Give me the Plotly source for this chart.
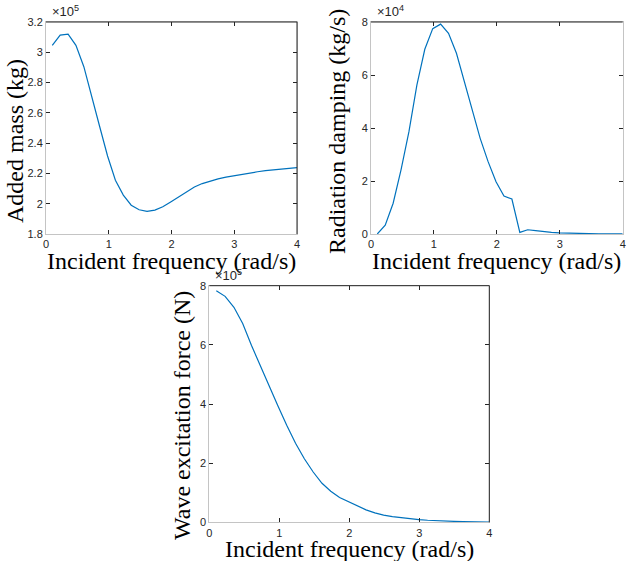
import plotly.graph_objects as go

# Incident frequency grid (rad/s)
freq = [0.100, 0.226, 0.352, 0.477, 0.603, 0.729, 0.855, 0.981, 1.106, 1.232,
        1.358, 1.484, 1.610, 1.735, 1.861, 1.987, 2.113, 2.239, 2.365, 2.490,
        2.616, 2.742, 2.868, 2.994, 3.119, 3.245, 3.371, 3.497, 3.623, 3.748,
        3.874, 4.000]

# Added mass (kg)
added_mass = [3.046e5, 3.113e5, 3.120e5, 3.046e5, 2.905e5, 2.715e5, 2.510e5, 2.315e5,
              2.155e5, 2.057e5, 1.990e5, 1.960e5, 1.950e5, 1.958e5, 1.980e5, 2.012e5,
              2.045e5, 2.075e5, 2.110e5, 2.133e5, 2.150e5, 2.164e5, 2.176e5, 2.186e5,
              2.195e5, 2.204e5, 2.211e5, 2.218e5, 2.224e5, 2.229e5, 2.234e5, 2.238e5]

# Radiation damping (kg/s)
rad_damping = [0.00e4, 0.33e4, 1.16e4, 2.42e4, 3.86e4, 5.62e4, 6.97e4, 7.75e4,
               7.92e4, 7.57e4, 6.82e4, 5.75e4, 4.68e4, 3.61e4, 2.73e4, 1.97e4,
               1.43e4, 1.32e4, 0.06e4, 0.16e4, 0.13e4, 0.09e4, 0.06e4, 0.04e4,
               0.03e4, 0.015e4, 0.01e4, 0.007e4, 0.005e4, 0.003e4, 0.002e4, 0.001e4]

# Wave excitation force (N)
exc_force = [7.83e5, 7.64e5, 7.27e5, 6.72e5, 5.98e5, 5.28e5, 4.58e5, 3.93e5,
             3.28e5, 2.67e5, 2.15e5, 1.70e5, 1.32e5, 1.05e5, 0.84e5, 0.70e5,
             0.55e5, 0.42e5, 0.32e5, 0.24e5, 0.19e5, 0.15e5, 0.11e5, 0.09e5,
             0.07e5, 0.05e5, 0.04e5, 0.03e5, 0.02e5, 0.015e5, 0.01e5, 0.008e5]

x_ticks = [0, 1, 2, 3, 4]
x_ticklabels = ["0", "1", "2", "3", "4"]
am_ticks = [1.8e5, 2.0e5, 2.2e5, 2.4e5, 2.6e5, 2.8e5, 3.0e5, 3.2e5]
am_ticklabels = ["1.8", "2", "2.2", "2.4", "2.6", "2.8", "3", "3.2"]
rd_ticks = [0, 2e4, 4e4, 6e4, 8e4]
rd_ticklabels = ["0", "2", "4", "6", "8"]
ef_ticks = [0, 2e5, 4e5, 6e5, 8e5]
ef_ticklabels = ["0", "2", "4", "6", "8"]

W, H = 628, 561
LINE = "#0072BD"
DARK = "#262626"
LIGHT = "#c4c4c4"
TICKFONT = dict(family="Liberation Sans, Arial", size=11, color=DARK)
TITLEFONT = dict(family="Liberation Serif, Times New Roman", size=24, color="black")

# panel boxes in window pixels: (left, right, top, bottom)
boxes = {
    "1": (46, 297, 22, 234),
    "2": (371, 622.7, 22, 234),
    "3": (209.3, 489.3, 285.7, 522.3),
}

def fx(px):
    return px / W

def fy(py):
    return 1 - py / H

fig = go.Figure()
fig.add_trace(go.Scatter(x=freq, y=added_mass, mode="lines",
                         line=dict(color=LINE, width=1.2), xaxis="x", yaxis="y",
                         showlegend=False))
fig.add_trace(go.Scatter(x=freq, y=rad_damping, mode="lines",
                         line=dict(color=LINE, width=1.2), xaxis="x2", yaxis="y2",
                         showlegend=False))
fig.add_trace(go.Scatter(x=freq, y=exc_force, mode="lines",
                         line=dict(color=LINE, width=1.2), xaxis="x3", yaxis="y3",
                         showlegend=False))

def xaxis(dom, anchor):
    return dict(domain=dom, anchor=anchor, range=[0, 4], tickvals=x_ticks,
                ticktext=x_ticklabels, ticks="inside", ticklen=4, tickcolor=DARK,
                showline=True, linecolor=LIGHT, linewidth=1, mirror="ticks",
                showgrid=False, zeroline=False, tickfont=TICKFONT, fixedrange=True,
                automargin=False, ticklabeloverflow="allow")

def yaxis(dom, anchor, rng, tv, tt):
    return dict(domain=dom, anchor=anchor, range=rng, tickvals=tv, ticktext=tt,
                ticks="inside", ticklen=4, tickcolor=DARK,
                showline=True, linecolor=LIGHT, linewidth=1, mirror="ticks",
                showgrid=False, zeroline=False, tickfont=TICKFONT, fixedrange=True,
                automargin=False, ticklabeloverflow="allow")

l1, r1, t1, b1 = boxes["1"]
l2, r2, t2, b2 = boxes["2"]
l3, r3, t3, b3 = boxes["3"]

fig.update_layout(
    width=W, height=H, margin=dict(l=0, r=0, t=0, b=0, autoexpand=False),
    paper_bgcolor="white", plot_bgcolor="white",
    xaxis=xaxis([fx(l1), fx(r1)], "y"),
    yaxis=yaxis([fy(b1), fy(t1)], "x", [1.8e5, 3.2e5], am_ticks, am_ticklabels),
    xaxis2=xaxis([fx(l2), fx(r2)], "y2"),
    yaxis2=yaxis([fy(b2), fy(t2)], "x2", [0, 8e4], rd_ticks, rd_ticklabels),
    xaxis3=xaxis([fx(l3), fx(r3)], "y3"),
    yaxis3=yaxis([fy(b3), fy(t3)], "x3", [0, 8e5], ef_ticks, ef_ticklabels),
)

shapes = []
ann = []
panels = [
    ("1", "Added mass (kg)", "5", 15, 141, True),
    ("2", "Radiation damping (kg/s)", "4", 337, 132, False),
    ("3", "Wave excitation force (N)", "5", 182, 416, True),
]
for key, ytitle, exp, ytx, yty, right_dark in panels:
    l, r, t, b = boxes[key]
    # dark top edge
    shapes.append(dict(type="line", xref="paper", yref="paper",
                       x0=fx(l), x1=fx(r), y0=fy(t), y1=fy(t),
                       line=dict(color=DARK, width=1), layer="above"))
    if right_dark:
        shapes.append(dict(type="line", xref="paper", yref="paper",
                           x0=fx(r), x1=fx(r), y0=fy(t), y1=fy(b),
                           line=dict(color=DARK, width=1), layer="above"))
    # exponent label
    ann.append(dict(text="\u00d710<sup>" + exp + "</sup>", xref="paper", yref="paper",
                    x=fx(l + 4), y=fy(t - 1), xanchor="left", yanchor="bottom",
                    showarrow=False, font=dict(family="Liberation Sans, Arial", size=13, color=DARK)))
    # x title
    ann.append(dict(text="Incident frequency (rad/s)", xref="paper", yref="paper",
                    x=fx((l + r) / 2), y=fy(b + 27), xanchor="center", yanchor="middle",
                    showarrow=False, font=TITLEFONT))
    # y title
    ann.append(dict(text=ytitle, xref="paper", yref="paper",
                    x=fx(ytx), y=fy(yty), xanchor="center", yanchor="middle",
                    textangle=-90, showarrow=False, font=TITLEFONT))

fig.update_layout(shapes=shapes, annotations=ann)
fig.write_html("out.html", config={"displayModeBar": False, "staticPlot": True},
               post_script="document.body.style.margin='0';document.body.style.padding='0';")
